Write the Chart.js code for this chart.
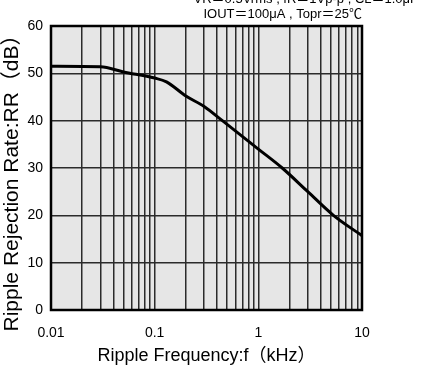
<!DOCTYPE html>
<html><head><meta charset="utf-8">
<script src="https://cdn.jsdelivr.net/npm/chart.js@4/dist/chart.umd.min.js"></script>
<style>html,body{margin:0;padding:0;background:#fff}#wrap{width:421px;height:367px}</style>
</head><body><div id="wrap"><canvas id="c" width="421" height="367"></canvas></div>
<script>
const freqKHz = [0.01, 0.03, 0.05, 0.1, 0.13, 0.2, 0.3, 0.45, 1, 1.7, 3, 5.3, 10];
const rrDb    = [51.5, 51.4, 50.3, 49.0, 48.2, 45.2, 43.0, 40.0, 34.0, 30.0, 25.0, 20.0, 15.7];
const xMajorTicks = [0.01, 0.1, 1, 10];
const xTickLabels = ['0.01', '0.1', '1', '10'];
const yTicks = [0, 10, 20, 30, 40, 50, 60];
const xTitle = 'Ripple Frequency:f（kHz）';
const yTitle = 'Ripple Rejection Rate:RR（dB）';
const condLines = ['VR＝0.5Vrms , fR＝1Vp-p , CL＝1.0μF', 'IOUT＝100μA , Topr＝25℃'];

const FONT = "'Liberation Sans', Arial, 'Noto Sans CJK JP', sans-serif";

const xGrid = [];
for (let d = 0; d < xMajorTicks.length - 1; d++) {
  for (let m = 1; m <= 9; m++) xGrid.push(xMajorTicks[d] * m);
}
xGrid.push(xMajorTicks[xMajorTicks.length - 1]);

const frame = {
  id: 'frame',
  beforeDraw(chart) {
    const {ctx, chartArea: a} = chart;
    ctx.save();
    ctx.fillStyle = '#e6e6e6';
    ctx.fillRect(a.left, a.top, a.right - a.left, a.bottom - a.top);
    ctx.restore();
  },
  afterDraw(chart) {
    const {ctx, chartArea: a} = chart;
    ctx.save();
    ctx.strokeStyle = '#000';
    ctx.lineWidth = 2.5;
    ctx.strokeRect(a.left, a.top, a.right - a.left, a.bottom - a.top);
    ctx.fillStyle = '#000';
    ctx.font = "13px " + FONT;
    ctx.textAlign = 'right';
    ctx.textBaseline = 'alphabetic';
    ctx.fillText(condLines[0], 418, 3);
    ctx.fillText(condLines[1], a.right, 18);
    // rotated y title
    ctx.translate(12, 178);
    ctx.rotate(-Math.PI / 2);
    ctx.textAlign = 'center';
    ctx.textBaseline = 'middle';
    ctx.font = "21px " + FONT;
    ctx.fillText(yTitle, 0, 0);
    ctx.restore();
  }
};

new Chart(document.getElementById('c'), {
  type: 'line',
  data: {
    datasets: [{
      data: freqKHz.map((f, i) => ({x: f, y: rrDb[i]})),
      borderColor: '#000',
      borderWidth: 3,
      pointRadius: 0,
      fill: false,
      cubicInterpolationMode: 'monotone'
    }]
  },
  options: {
    responsive: false,
    animation: false,
    layout: {padding: {top: 26, right: 59, left: 0, bottom: 0}},
    plugins: {legend: {display: false}, tooltip: {enabled: false}},
    scales: {
      x: {
        type: 'logarithmic',
        min: 0.01, max: 10,
        afterBuildTicks(s) { s.ticks = xGrid.map(v => ({value: v})); },
        afterFit(s) { s.height = 57; },
        ticks: {
          autoSkip: false, maxRotation: 0, padding: 15, color: '#000',
          font: {family: FONT, size: 14},
          callback(v) {
            const i = xMajorTicks.findIndex(m => Math.abs(m - v) / m < 1e-6);
            return i >= 0 ? xTickLabels[i] : '';
          }
        },
        grid: {color: '#2b2b2b', lineWidth: 1.5, drawTicks: false},
        border: {display: false},
        title: {display: true, text: xTitle, color: '#000', font: {family: FONT, size: 18}, padding: {top: 0, bottom: 0}}
      },
      y: {
        min: 0, max: 60,
        afterBuildTicks(s) { s.ticks = yTicks.map(v => ({value: v})); },
        afterFit(s) { s.width = 51; },
        ticks: {padding: 8, color: '#000', font: {family: FONT, size: 14}},
        grid: {color: '#2b2b2b', lineWidth: 1.5, drawTicks: false},
        border: {display: false},
        title: {display: false}
      }
    }
  },
  plugins: [frame]
});
</script></body></html>
